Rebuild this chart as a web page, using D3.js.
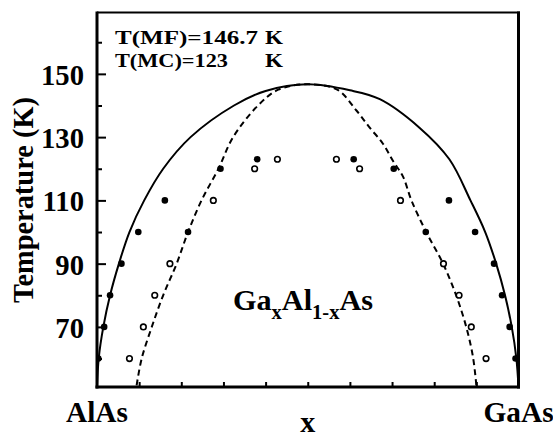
<!DOCTYPE html>
<html>
<head>
<meta charset="utf-8">
<script src="https://cdn.jsdelivr.net/npm/d3@7"></script>
<style>
  html, body { margin: 0; padding: 0; background: #fff; }
  svg { display: block; }
  text { fill: #000; }
</style>
</head>
<body>
<svg id="chart" width="553" height="438"></svg>
<script>
// Ordering temperature of Ga(x)Al(1-x)As versus composition x (AlAs = 0, GaAs = 1)

// axis ticks
const yMajorTicks = [70, 90, 110, 130, 150];
const yMinorTicks = [60, 80, 100, 120, 140, 160];
const xTicks = [0.1, 0.2, 0.3, 0.4, 0.5, 0.6, 0.7, 0.8, 0.9];
const xEndLabels = ["AlAs", "GaAs"];

// mean-field boundary (solid line)
const mfX = [0.000, 0.004, 0.015, 0.031, 0.052, 0.077, 0.112, 0.157, 0.222, 0.325, 0.400, 0.500,
             0.600, 0.671, 0.765, 0.836, 0.886, 0.921, 0.947, 0.968, 0.984, 0.995, 1.000];
const mfT = [51.0, 60.0, 70.0, 80.0, 90.0, 100.0, 110.0, 120.0, 130.0, 140.0, 144.6, 146.7,
             144.8, 142.0, 133.0, 123.0, 110.0, 100.0, 90.0, 80.0, 70.0, 60.0, 51.0];

// second boundary (dashed line)
const dashX = [0.094, 0.106, 0.130, 0.157, 0.189, 0.216, 0.248, 0.288, 0.323, 0.382, 0.430, 0.500,
               0.570, 0.615, 0.647, 0.678, 0.702, 0.726, 0.746, 0.781, 0.821, 0.852, 0.876, 0.892, 0.900];
const dashT = [51.5, 60.0, 70.0, 80.0, 90.0, 100.0, 110.0, 120.0, 130.0, 140.0, 145.0, 146.7,
               145.0, 138.5, 133.0, 128.0, 122.5, 117.5, 110.0, 100.0, 90.0, 80.0, 70.0, 60.5, 51.5];

// Monte Carlo points, filled symbols
const filledX = [0.003, 0.017, 0.031, 0.058, 0.098, 0.161, 0.216, 0.293, 0.380,
                 0.609, 0.704, 0.780, 0.835, 0.897, 0.942, 0.961, 0.979, 0.993];
const filledT = [60, 70, 80, 90, 100, 110, 100, 120, 123,
                 123, 120, 100, 110, 100, 90, 80, 70, 60];

// Monte Carlo points, open symbols
const openX = [0.077, 0.110, 0.137, 0.173, 0.276, 0.374, 0.428,
               0.568, 0.623, 0.720, 0.822, 0.859, 0.888, 0.923];
const openT = [60, 70, 80, 90, 110, 120, 123,
               123, 120, 110, 90, 80, 70, 60];

const noteLines = [["T(MF)=146.7", "K"], ["T(MC)=123", "K"]];
const noteWidths = [143, 113];

const svg = d3.select("#chart");
const plotLeft = 97, plotRight = 518.5, plotTop = 12.5, plotBottom = 387;

const x = d3.scaleLinear().domain([0, 1]).range([plotLeft, plotRight]);
const y = d3.scaleLinear().domain([51, 169.4]).range([plotBottom, plotTop]);

const FONT = "'Liberation Serif', Tinos, 'Nimbus Roman', 'Times New Roman', 'DejaVu Serif', 'Noto Serif', serif";

// scale a text's font size (and its tspans') so the run spans the wanted width
function fitWidth(sel, width) {
  const node = sel.node();
  const k = width / node.getComputedTextLength();
  const fs = parseFloat(sel.attr("font-size"));
  sel.attr("font-size", fs * k);
  sel.selectAll("tspan").each(function () {
    const t = d3.select(this);
    if (t.attr("font-size")) t.attr("font-size", parseFloat(t.attr("font-size")) * k);
  });
  return k;
}

svg.append("defs").append("clipPath").attr("id", "plot-clip")
  .append("rect").attr("x", plotLeft).attr("y", plotTop)
  .attr("width", plotRight - plotLeft).attr("height", plotBottom - plotTop);

const plot = svg.append("g").attr("clip-path", "url(#plot-clip)");

const line = d3.line()
  .x(d => x(d[0])).y(d => y(d[1]))
  .curve(d3.curveCatmullRom.alpha(0.5));

plot.append("path")
  .datum(d3.zip(mfX, mfT))
  .attr("d", line)
  .attr("fill", "none").attr("stroke", "#000").attr("stroke-width", 2);

plot.append("path")
  .datum(d3.zip(dashX, dashT))
  .attr("d", line)
  .attr("fill", "none").attr("stroke", "#000").attr("stroke-width", 2)
  .attr("stroke-dasharray", "6,4");

plot.selectAll("circle.filled")
  .data(d3.zip(filledX, filledT)).join("circle")
  .attr("class", "filled")
  .attr("cx", d => x(d[0])).attr("cy", d => y(d[1])).attr("r", 3.3)
  .attr("fill", "#000");

plot.selectAll("circle.open")
  .data(d3.zip(openX, openT)).join("circle")
  .attr("class", "open")
  .attr("cx", d => x(d[0])).attr("cy", d => y(d[1])).attr("r", 2.8)
  .attr("fill", "#fff").attr("stroke", "#000").attr("stroke-width", 1.6);

// left axis: inward ticks, labels on the outside
const yAxis = d3.axisRight(y).tickValues(yMajorTicks).tickSize(9).tickFormat("");
const gy = svg.append("g").attr("transform", `translate(${plotLeft},0)`).call(yAxis);
gy.select(".domain").remove();
gy.selectAll(".tick line").attr("stroke-width", 2);

const yAxisMinor = d3.axisRight(y).tickValues(yMinorTicks).tickSize(5).tickFormat("");
const gym = svg.append("g").attr("transform", `translate(${plotLeft},0)`).call(yAxisMinor);
gym.select(".domain").remove();
gym.selectAll(".tick line").attr("stroke-width", 2);

const yLabels = svg.append("g").selectAll("text")
  .data(yMajorTicks).join("text")
  .attr("x", 84).attr("y", d => y(d) + 1)
  .attr("text-anchor", "end").attr("dominant-baseline", "central")
  .attr("font-size", 30).attr("font-weight", "bold")
  .attr("font-family", FONT)
  .text(d => d);
// same size for every tick label, set from the widest one
{
  const k = 43 / yLabels.filter(d => d === 150).node().getComputedTextLength();
  yLabels.attr("font-size", 30 * k);
}

// bottom axis: short inward ticks
const xAxis = d3.axisTop(x).tickValues(xTicks).tickSize(5).tickFormat("");
const gx = svg.append("g").attr("transform", `translate(0,${plotBottom})`).call(xAxis);
gx.select(".domain").remove();
gx.selectAll(".tick line").attr("stroke-width", 2);

// frame
svg.append("line").attr("x1", plotLeft).attr("x2", plotLeft).attr("y1", plotTop - 1).attr("y2", plotBottom + 1.5)
  .attr("stroke", "#000").attr("stroke-width", 3);
svg.append("line").attr("x1", plotLeft - 1.5).attr("x2", plotRight + 1.5).attr("y1", plotBottom).attr("y2", plotBottom)
  .attr("stroke", "#000").attr("stroke-width", 3);
svg.append("line").attr("x1", plotLeft).attr("x2", plotRight + 1.5).attr("y1", plotTop).attr("y2", plotTop)
  .attr("stroke", "#000").attr("stroke-width", 2);
svg.append("line").attr("x1", plotRight).attr("x2", plotRight).attr("y1", plotTop - 1).attr("y2", plotBottom + 1.5)
  .attr("stroke", "#000").attr("stroke-width", 3);

// y axis title
const yTitle = svg.append("text")
  .attr("transform", `translate(33,200) rotate(-90)`)
  .attr("text-anchor", "middle")
  .attr("font-size", 28).attr("font-weight", "bold")
  .attr("font-family", FONT)
  .text("Temperature (K)");
fitWidth(yTitle, 206);

// composition end labels and x title
const endLabels = svg.append("g").selectAll("text")
  .data(xEndLabels).join("text")
  .attr("x", (d, i) => x(i)).attr("y", 421.5)
  .attr("text-anchor", "middle")
  .attr("font-size", 28).attr("font-weight", "bold")
  .attr("font-family", FONT)
  .text(d => d);
{
  const k = 62 / endLabels.filter(d => d === "AlAs").node().getComputedTextLength();
  endLabels.attr("font-size", 28 * k);
}

const xTitle = svg.append("text")
  .attr("x", x(0.5)).attr("y", 432)
  .attr("text-anchor", "middle")
  .attr("font-size", 30).attr("font-weight", "bold")
  .attr("font-family", FONT)
  .text("x");
fitWidth(xTitle, 15);

// transition temperatures, two tight lines with the units aligned
const note = svg.append("g")
  .attr("font-size", 19).attr("font-weight", "bold")
  .attr("font-family", FONT);
noteLines.forEach((parts, i) => {
  const base = 44 + i * 22.5;
  note.append("text")
    .attr("x", 115).attr("y", base)
    .attr("textLength", noteWidths[i]).attr("lengthAdjust", "spacingAndGlyphs")
    .text(parts[0]);
  note.append("text")
    .attr("x", 265).attr("y", base)
    .attr("textLength", 18).attr("lengthAdjust", "spacingAndGlyphs")
    .text(parts[1]);
});

// alloy formula
const formula = svg.append("text")
  .attr("x", 233).attr("y", 310)
  .attr("font-size", 28).attr("font-weight", "bold")
  .attr("font-family", FONT);
formula.append("tspan").text("Ga");
formula.append("tspan").attr("font-size", 19).attr("dy", 9).text("x");
formula.append("tspan").attr("dy", -9).text("Al");
formula.append("tspan").attr("font-size", 19).attr("dy", 9).text("1-x");
formula.append("tspan").attr("dy", -9).text("As");
fitWidth(formula, 140);
</script>
</body>
</html>
